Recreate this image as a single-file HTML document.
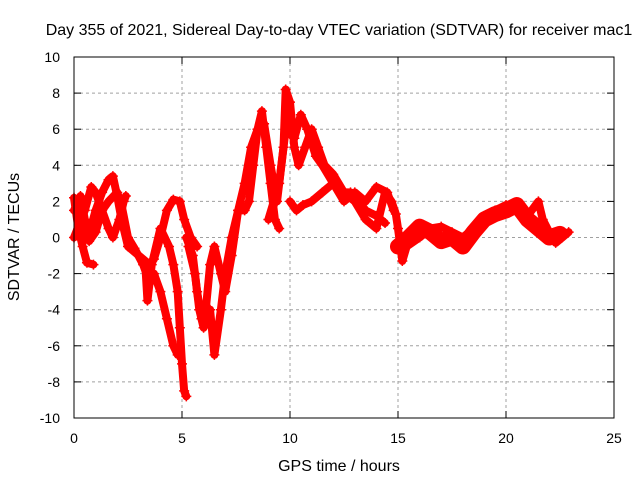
<!DOCTYPE html>
<html><head><meta charset="utf-8"><style>
body{margin:0;background:#fff}
svg{display:block;font-family:"Liberation Sans",sans-serif}
</style></head><body>
<svg id="chart" width="640" height="480">
<text x="339" y="35" font-size="16" text-anchor="middle">Day 355 of 2021, Sidereal Day-to-day VTEC variation (SDTVAR) for receiver mac1</text>
<g id="grid"></g>
<g id="ticks"></g>
<g id="series"></g>
<rect x="74" y="57" width="540" height="361" fill="none" stroke="#000" stroke-width="1"/>
<text x="339" y="471" font-size="16" text-anchor="middle">GPS time / hours</text>
<text x="19" y="237" font-size="16" text-anchor="middle" transform="rotate(-90 19 237)">SDTVAR / TECUs</text>
</svg>
<script>
const xTicks=[0,5,10,15,20,25];
const yTicks=[-10,-8,-6,-4,-2,0,2,4,6,8,10];
const traceA=[[0,2.2],[0.2,0.5],[0.4,-0.5],[0.6,-1.4],[0.9,-1.5]];
const traceB=[[0,1.5],[0.3,2.3],[0.5,1],[0.7,0.2],[1,1.5],[1.3,2.5],[1.6,3.2],[1.8,3.4],[2,2.3],[2.2,1],[2.5,-0.5],[3,-1],[3.5,-1.5],[3.7,-1.2],[4,0],[4.3,1.5],[4.6,2.1],[4.9,2],[5.1,1],[5.4,0],[5.7,-0.5]];
const traceC=[[0.1,1.8],[0.4,0.5],[0.7,-0.2],[1,0.3],[1.3,1.5],[1.6,2],[2,2.5],[2.2,1.8],[2.5,0],[2.8,-0.6],[3.2,-1.5],[3.5,-2.5],[3.7,-2],[4,-3],[4.3,-4.5],[4.6,-6],[4.8,-6.5]];
const traceD=[[0,0],[0.5,1.5],[0.8,2.8],[1,2.5],[1.3,1.5],[1.6,0.5],[1.8,0],[2.1,1],[2.3,2],[2.4,2.3]];
const traceE=[[3.3,-1.5],[3.4,-3.5],[3.6,-1.5],[4,0.5],[4.4,-0.5],[4.6,-1.5],[4.8,-3],[4.9,-5],[5,-7],[5.1,-8.5],[5.2,-8.8]];
const traceF=[[5.3,-0.5],[5.6,-2],[5.8,-4],[6,-5],[6.3,-4],[6.5,-6.5],[6.8,-4],[7,-2],[7.3,0],[7.6,1.5],[7.9,3],[8.2,5],[8.5,6],[8.7,7],[8.9,5],[9.1,3],[9.3,1],[9.5,0.5]];
const traceG=[[5.2,0],[5.5,-1],[5.7,-3],[5.9,-4.5],[6.1,-4],[6.3,-1.5],[6.5,-0.5],[6.8,-2],[7,-3],[7.3,-1],[7.6,1.5],[7.9,1.5],[8.1,2],[8.3,4],[8.5,6],[8.8,6.3],[9.1,4],[9.4,2],[9.7,5],[9.8,8.2],[10,7.5],[10.2,5],[10.4,4],[10.7,5],[11,6],[11.3,5],[11.6,4],[12,3.5],[12.5,2.5],[13,2],[13.5,1],[14,0.5],[14.4,2.5],[14.7,2],[14.9,1.3],[15,0.5],[15.2,-1.3],[15.4,-0.5],[16,0],[16.5,0.5],[17,0.6],[17.5,0.3],[18,0],[18.5,0.5],[19,1.2],[19.5,1.5],[20,1.8],[20.5,1.5],[21,1.2],[21.5,2],[21.7,1],[22,0.3],[22.3,-0.3],[22.6,0],[22.9,0.3]];
const traceH=[[9,1],[9.5,3],[9.8,6],[10.2,5.5],[10.5,6.8],[10.8,6],[11.2,4.5],[11.5,4],[12,3],[12.5,2],[13,2.5],[13.5,2],[14,2.8],[14.5,2.5],[14.8,1.5]];
const traceI=[[10,2],[10.3,1.5],[10.6,1.8],[11,2],[11.5,2.5],[12,3],[12.3,2.5],[12.8,2.5],[13.2,2],[13.5,1.5],[14,1.2],[14.4,0.8]];
const traceJ=[[15,-0.5],[15.5,0],[16,0.6],[16.5,0.3],[17,-0.2],[17.5,0],[18,-0.5],[18.5,0.3],[19,1],[19.5,1.3],[20,1.5],[20.5,1.8],[21,1],[21.5,0.5],[22,0],[22.5,0.2]];
const traces=[traceA,traceB,traceC,traceD,traceE,traceF,traceG,traceH,traceI,traceJ];

const NS="http://www.w3.org/2000/svg";
const X=v=>74+v*21.6;
const Y=v=>237.5-v*18.05;
const grid=document.getElementById('grid'),ticks=document.getElementById('ticks'),series=document.getElementById('series');
function mk(t,a,p){const e=document.createElementNS(NS,t);for(const k in a)e.setAttribute(k,a[k]);p.appendChild(e);return e;}
xTicks.forEach(t=>{
  if(t>0&&t<25){const g=mk('line',{x1:X(t),x2:X(t),y1:57,y2:418,stroke:'#a0a0a0','stroke-dasharray':'3,3'},grid);
  
  }
  const l=mk('text',{x:X(t),y:443,'font-size':14,'text-anchor':'middle'},ticks);l.textContent=t;
  
  
  mk('line',{x1:X(t),x2:X(t),y1:418,y2:411,stroke:'#000'},ticks);
  mk('line',{x1:X(t),x2:X(t),y1:57,y2:64,stroke:'#000'},ticks);
});
yTicks.forEach(t=>{
  if(t>-10&&t<10){const g=mk('line',{x1:74,x2:614,y1:Y(t),y2:Y(t),stroke:'#a0a0a0','stroke-dasharray':'3,3'},grid);
  
  }
  const l=mk('text',{x:60,y:Y(t)+5,'font-size':14,'text-anchor':'end'},ticks);l.textContent=t;
  
  
  mk('line',{x1:74,x2:81,y1:Y(t),y2:Y(t),stroke:'#000'},ticks);
  mk('line',{x1:614,x2:607,y1:Y(t),y2:Y(t),stroke:'#000'},ticks);
});
traces.forEach((tr,i)=>{
  const pl=mk('polyline',{points:tr.map(p=>X(p[0])+','+Y(p[1])).join(' '),fill:'none',stroke:'#ff0000','stroke-width':(i===9?16:8),'stroke-linejoin':'round','stroke-linecap':'round'},series);
  
  
  tr.forEach(p=>{
    const x=X(p[0]),y=Y(p[1]);
    const m=mk('path',{d:`M${x-5},${y}H${x+5}M${x},${y-5}V${y+5}`,stroke:'#ff0000','stroke-width':1.5},series);
    
    
  });
});
</script>
</body></html>
